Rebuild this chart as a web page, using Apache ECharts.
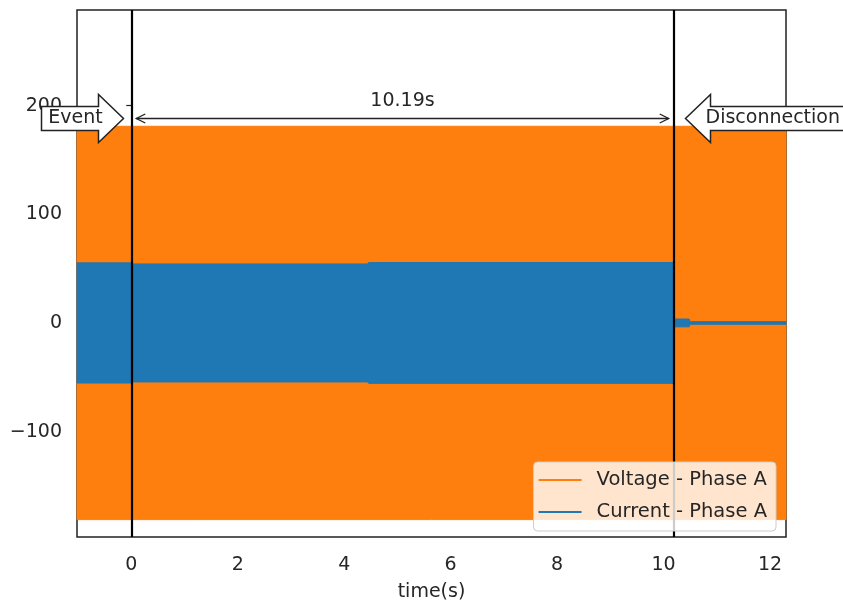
<!DOCTYPE html>
<html>
<head>
<meta charset="utf-8">
<script src="https://cdn.jsdelivr.net/npm/echarts@6/dist/echarts.min.js"></script>
<style>
  html, body { margin: 0; padding: 0; background: #fff; }
  #chart { width: 843px; height: 601px; }
</style>
</head>
<body>
<div id="chart"></div>
<script>
// envelope of the phase A waveforms (time in s, amplitude)
var voltTime = [-1.02, 12.3]
var voltUpper = [181, 181]
var voltLower = [-181, -181]

var currTime = [-1.02, 0, 0.02, 4.44, 4.46, 10.18, 10.2, 10.48, 10.5, 12.3]
var currUpper = [55.3, 55.3, 54.3, 54.3, 55.6, 55.6, 3.6, 3.6, 1.2, 1.2]
var currLower = [-55.3, -55.3, -54.3, -54.3, -55.6, -55.6, -3.6, -3.6, -1.2, -1.2]

var xTicks = [0, 2, 4, 6, 8, 10, 12]
var yTicks = [-100, 0, 100, 200]

var eventTime = 0
var disconnectTime = 10.19
var arrowLevel = 189
// annotation boxes: [tip x, y, text]
var boxes = [[-0.15, 189, 'Event'], [10.4, 189, 'Disconnection']]

var orange = '#ff7f0e'
var blue = '#1f77b4'
var font = 'DejaVu Sans'
var fs = 19

function envelope(name, color, t, up, lo, z) {
  var rows = t.map(function (v, i) { return [v, up[i], lo[i]] })
  return {
    name: name,
    type: 'custom',
    z: z,
    silent: true,
    data: rows,
    itemStyle: { color: color },
    encode: { x: 0, y: [1, 2] },
    renderItem: function (params, api) {
      if (params.dataIndex !== 0) return null
      var top = rows.map(function (r) { return api.coord([r[0], r[1]]) })
      var bot = rows.map(function (r) { return api.coord([r[0], r[2]]) }).reverse()
      return {
        type: 'polygon',
        shape: { points: top.concat(bot) },
        style: { fill: color, stroke: color, lineWidth: 1 }
      }
    }
  }
}

var chart = echarts.init(document.getElementById('chart'))

var option = {
  backgroundColor: '#fff',
  animation: false,
  grid: {
    left: 77, right: 57, top: 10, bottom: 64,
    outerBoundsMode: 'none',
    containLabel: false,
    show: true, borderColor: '#222', borderWidth: 1.5, backgroundColor: 'transparent'
  },
  xAxis: {
    type: 'value',
    min: -1.02,
    max: 12.3,
    name: 'time(s)',
    nameLocation: 'middle',
    nameGap: 46,
    nameTextStyle: { fontFamily: font, fontSize: fs, color: '#262626' },
    axisLine: { show: false },
    splitLine: { show: false },
    axisTick: { show: true, customValues: xTicks, length: 5, lineStyle: { color: '#222', width: 1.2 } },
    axisLabel: { customValues: xTicks, fontFamily: font, fontSize: fs, color: '#262626', margin: 19 }
  },
  yAxis: {
    type: 'value',
    min: -197,
    max: 288,
    axisLine: { show: false },
    splitLine: { show: false },
    axisTick: { show: true, customValues: yTicks, length: 5, lineStyle: { color: '#222', width: 1.2 } },
    axisLabel: {
      customValues: yTicks, fontFamily: font, fontSize: fs, color: '#262626', margin: 15,
      padding: [4, 0, 0, 0],
      formatter: function (v) { return String(v).replace('-', '\u2212') }
    }
  },
  legend: {
    orient: 'vertical',
    right: 67,
    bottom: 70,
    z: 10,
    data: ['Voltage - Phase A', 'Current - Phase A'],
    icon: 'rect',
    itemWidth: 43,
    itemHeight: 2,
    itemGap: 12,
    padding: [8, 9, 9, 5],
    backgroundColor: 'rgba(255,255,255,0.8)',
    borderColor: '#ccc',
    borderWidth: 1,
    borderRadius: 4,
    textStyle: { fontFamily: font, fontSize: 19.5, color: '#262626', padding: [0, 0, 0, 10] }
  },
  series: [
    envelope('Voltage - Phase A', orange, voltTime, voltUpper, voltLower, 2),
    envelope('Current - Phase A', blue, currTime, currUpper, currLower, 3),
    {
      name: 'events',
      type: 'line',
      data: [],
      z: 5,
      markLine: {
        silent: true,
        symbol: 'none',
        animation: false,
        label: { show: false },
        lineStyle: { color: '#000', width: 2.2, type: 'solid' },
        data: [{ xAxis: eventTime }, { xAxis: disconnectTime }]
      }
    },
    {
      name: 'duration',
      type: 'custom',
      z: 6,
      silent: true,
      data: [[eventTime, disconnectTime, arrowLevel]],
      renderItem: function (params, api) {
        var p1 = api.coord([api.value(0), api.value(2)])
        var p2 = api.coord([api.value(1), api.value(2)])
        var y = Math.round(p1[1]) + 0.5
        var x1 = p1[0] + 5, x2 = p2[0] - 5
        var dt = (api.value(1) - api.value(0)).toFixed(2) + 's'
        return {
          type: 'group',
          children: [
            { type: 'line', shape: { x1: x1, y1: y, x2: x2, y2: y }, style: { stroke: '#222', lineWidth: 1.3 } },
            { type: 'polyline', shape: { points: [[x1 + 9, y - 4.5], [x1, y], [x1 + 9, y + 4.5]] }, style: { stroke: '#222', lineWidth: 1.3, fill: null } },
            { type: 'polyline', shape: { points: [[x2 - 9, y - 4.5], [x2, y], [x2 - 9, y + 4.5]] }, style: { stroke: '#222', lineWidth: 1.3, fill: null } },
            { type: 'text', style: { x: (x1 + x2) / 2, y: y - 17, text: dt, align: 'center', verticalAlign: 'middle', fontFamily: font, fontSize: fs, fill: '#262626' } }
          ]
        }
      }
    },
    {
      name: 'labels',
      type: 'custom',
      z: 7,
      silent: true,
      clip: false,
      data: boxes,
      renderItem: function (params, api) {
        var p = api.coord([api.value(0), api.value(1)])
        var tx = Math.round(p[0]) + 0.5, ty = Math.round(p[1]) + 0.5
        var txt = boxes[params.dataIndex][2]
        var dir = params.dataIndex === 0 ? -1 : 1
        var bodyLen = dir < 0 ? 82 : 180
        var pts = [
          [tx + dir * bodyLen, ty - 12], [tx + dir * 25, ty - 12], [tx + dir * 25, ty - 24],
          [tx, ty], [tx + dir * 25, ty + 24], [tx + dir * 25, ty + 12], [tx + dir * bodyLen, ty + 12]
        ]
        var textX = dir < 0 ? tx - 48 : tx + 20
        return {
          type: 'group',
          children: [
            { type: 'polygon', shape: { points: pts }, style: { fill: '#fff', stroke: '#222', lineWidth: 1.5 } },
            { type: 'text', style: { x: textX, y: ty, text: txt, align: dir < 0 ? 'center' : 'left', verticalAlign: 'middle', fontFamily: font, fontSize: fs, fill: '#262626' } }
          ]
        }
      }
    }
  ]
}

chart.setOption(option)
</script>
</body>
</html>
